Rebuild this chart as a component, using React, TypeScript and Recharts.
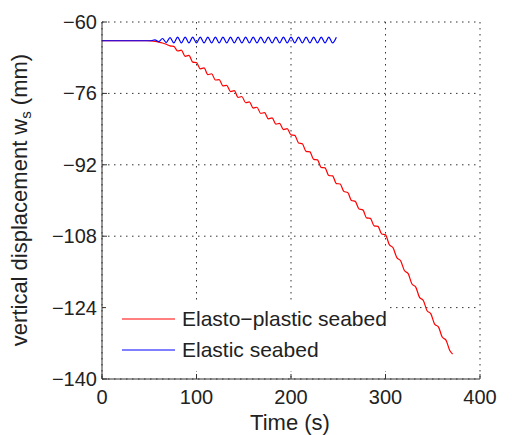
import React from 'react';
import {
  LineChart,
  Line,
  XAxis,
  YAxis,
  CartesianGrid,
  Legend,
} from 'recharts';

const FONT = '"Liberation Sans", Arial, Helvetica, sans-serif';

// time (s)
const times = [
  0, 48, 52, 56, 60, 64, 68, 72, 76, 80, 84, 88, 92, 96, 100, 104, 108, 112, 116, 120,
  124, 128, 132, 136, 140, 144, 148, 152, 156, 160, 164, 168, 172, 176, 180, 184, 188,
  192, 196, 200, 204, 208, 212, 216, 220, 224, 228, 232, 236, 240, 244, 248, 252, 256,
  260, 264, 268, 272, 276, 280, 284, 288, 292, 296, 300, 304, 308, 312, 316, 320, 324,
  328, 332, 336, 340, 344, 348, 352, 356, 360, 364, 368, 371,
];

// Elasto-plastic seabed (mm)
const elastoPlastic = [
  -64.2, -64.2, -64.25, -64.35, -64.5, -64.7, -65.0, -65.35, -65.45, -66.5, -66.3, -67.7,
  -67.5, -69.0, -69.1, -70.5, -70.3, -71.8, -71.6, -73.0, -72.9, -74.3, -74.2, -75.6,
  -75.4, -76.9, -76.7, -78.1, -77.9, -79.3, -79.1, -80.5, -80.3, -81.7, -81.5, -82.9,
  -82.7, -84.1, -83.9, -85.3, -85.4, -87.1, -87.3, -89.0, -89.1, -90.8, -90.9, -92.6,
  -92.7, -94.4, -94.5, -96.2, -96.3, -98.0, -98.2, -100.0, -100.2, -101.9, -102.1,
  -103.9, -104.0, -105.7, -105.8, -107.5, -107.7, -109.9, -110.6, -112.8, -113.5,
  -115.7, -116.4, -118.7, -119.4, -121.7, -122.4, -124.7, -125.4, -127.7, -128.3,
  -130.6, -131.3, -133.6, -134.4,
];

// Elastic seabed (mm), ends at t = 248 s
const elastic = [
  -64.2, -64.2, -64.2, -64.0, -64.4, -63.7, -64.6, -63.5, -64.7, -63.4, -64.7, -63.4,
  -64.7, -63.4, -64.7, -63.4, -64.7, -63.4, -64.7, -63.4, -64.7, -63.4, -64.7, -63.4,
  -64.7, -63.4, -64.7, -63.4, -64.7, -63.4, -64.7, -63.4, -64.7, -63.4, -64.7, -63.4,
  -64.7, -63.4, -64.7, -63.4, -64.7, -63.4, -64.7, -63.4, -64.7, -63.4, -64.7, -63.4,
  -64.7, -63.4, -64.7, -63.4,
];

const xTicks = [0, 100, 200, 300, 400];
const yTicks = [-140, -124, -108, -92, -76, -60];
const legendOrder = ['plastic', 'elastic'];

const data = times.map((t, i) => ({
  time: t,
  plastic: elastoPlastic[i],
  elastic: i < elastic.length ? elastic[i] : null,
}));

const minus = (v: number) => String(v).replace('-', '\u2212');

const BottomTick = ({ x, y, payload }: any) => (
  <g>
    <line x1={x} y1={y} x2={x} y2={y - 5} stroke="#333" />
    <text x={x} y={y + 25} textAnchor="middle" fontSize={20} fontFamily={FONT} fill="#222">
      {payload.value}
    </text>
  </g>
);

const LeftTick = ({ x, y, payload }: any) => (
  <g>
    <line x1={x} y1={y} x2={x + 5} y2={y} stroke="#333" />
    <text x={x - 5} y={y + 7} textAnchor="end" fontSize={20} fontFamily={FONT} fill="#222">
      {minus(payload.value)}
    </text>
  </g>
);

const TopTick = ({ x, y }: any) => <line x1={x} y1={y} x2={x} y2={y + 5} stroke="#333" />;
const RightTick = ({ x, y }: any) => <line x1={x} y1={y} x2={x - 5} y2={y} stroke="#333" />;

const LegendBox = ({ payload }: any) => {
  const items = [...(payload || [])].sort(
    (a: any, b: any) => legendOrder.indexOf(a.dataKey) - legendOrder.indexOf(b.dataKey),
  );
  return (
    <svg width={284} height={68}>
      {items.map((p: any, i: number) => (
        <g key={p.value}>
          <line x1={16} y1={16 + i * 31} x2={69} y2={16 + i * 31} stroke={p.color} strokeWidth={1.2} />
          <text x={76} y={23 + i * 31} fontSize={21} fontFamily={FONT} fill="#222">
            {p.value}
          </text>
        </g>
      ))}
    </svg>
  );
};

export default function App() {
  return (
    <div style={{ position: 'fixed', left: 0, top: 0, width: 512, height: 435, background: '#fff' }}>
      <LineChart width={512} height={435} data={data} margin={{ top: 22, right: 32, left: 0, bottom: 0 }}>
        <CartesianGrid stroke="#333" strokeDasharray="1.5 4.5" />
        <XAxis
          dataKey="time"
          type="number"
          domain={[0, 400]}
          ticks={xTicks}
          height={56}
          tickSize={0}
          tickMargin={0}
          tickLine={false}
          tick={<BottomTick />}
          stroke="#333"
          allowDataOverflow
        />
        <XAxis
          xAxisId="top"
          orientation="top"
          dataKey="time"
          type="number"
          domain={[0, 400]}
          ticks={xTicks}
          height={0}
          tickSize={0}
          tickMargin={0}
          tickLine={false}
          tick={<TopTick />}
          stroke="#333"
        />
        <YAxis
          type="number"
          domain={[-140, -60]}
          ticks={yTicks}
          width={102}
          tickSize={0}
          tickMargin={0}
          tickLine={false}
          tick={<LeftTick />}
          stroke="#333"
          allowDataOverflow
        />
        <YAxis
          yAxisId="right"
          orientation="right"
          type="number"
          domain={[-140, -60]}
          ticks={yTicks}
          width={0}
          tickSize={0}
          tickMargin={0}
          tickLine={false}
          tick={<RightTick />}
          stroke="#333"
        />
        <Legend
          layout="horizontal"
          verticalAlign="middle"
          align="center"
          content={<LegendBox />}
          wrapperStyle={{ position: 'absolute', left: 106, top: 303, width: 284, height: 68, background: '#fff' }}
        />
        <Line
          type="monotone"
          dataKey="plastic"
          name={'Elasto\u2212plastic seabed'}
          stroke="#ff0000"
          strokeWidth={1.2}
          dot={false}
          isAnimationActive={false}
        />
        <Line
          type="monotone"
          dataKey="elastic"
          name="Elastic seabed"
          stroke="#0000ff"
          strokeWidth={1.2}
          dot={false}
          isAnimationActive={false}
        />
      </LineChart>
      <svg width={512} height={435} style={{ position: 'absolute', left: 0, top: 0, pointerEvents: 'none' }}>
        <text
          transform="translate(19,200) rotate(-90)"
          textAnchor="middle"
          dominantBaseline="central"
          fontSize={22}
          fontFamily={FONT}
          fill="#222"
        >
          vertical displacement w<tspan fontSize={15} dy={6}>s</tspan>
          <tspan dy={-6}> (mm)</tspan>
        </text>
        <text x={290} y={430} textAnchor="middle" fontSize={22} fontFamily={FONT} fill="#222">
          Time (s)
        </text>
      </svg>
    </div>
  );
}
